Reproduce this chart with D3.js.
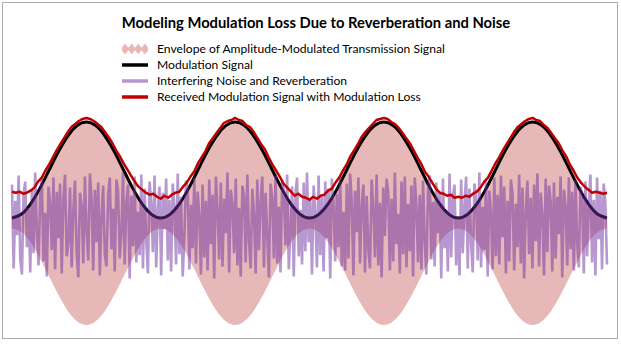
<!DOCTYPE html>
<html>
<head>
<meta charset="utf-8">
<script src="https://cdn.jsdelivr.net/npm/d3@7"></script>
<style>
  html, body { margin: 0; padding: 0; background: #fff; }
  svg { display: block; }
  text { font-family: Lato, "Open Sans", sans-serif; fill: #000; }
</style>
</head>
<body>
<svg id="chart" width="621" height="348"></svg>
<script>
// Modulation signal over four modulation periods (normalized amplitude)
const modulation = [
  .050,.086,.189,.343,.525,.707,.861,.964,1.000,.964,.861,.707,.525,.343,.189,.086,
  .050,.086,.189,.343,.525,.707,.861,.964,1.000,.964,.861,.707,.525,.343,.189,.086,
  .050,.086,.189,.343,.525,.707,.861,.964,1.000,.964,.861,.707,.525,.343,.189,.086,
  .050,.086,.189,.343,.525,.707,.861,.964,1.000,.964,.861,.707,.525,.343,.189,.086,
  .050
];

// Envelope of the amplitude-modulated transmission (± half-width)
const envelope = [
  .055,.090,.193,.348,.530,.713,.868,.972,1.010,.972,.868,.713,.530,.348,.193,.090,
  .055,.090,.193,.348,.530,.713,.868,.972,1.010,.972,.868,.713,.530,.348,.193,.090,
  .055,.090,.193,.348,.530,.713,.868,.972,1.010,.972,.868,.713,.530,.348,.193,.090,
  .055,.090,.193,.348,.530,.713,.868,.972,1.010,.972,.868,.713,.530,.348,.193,.090,
  .055
];

// Interfering noise and reverberation samples
const noise = [
  .38,-.45,.22,-.12,.47,-.36,-.51,.29,.41,-.24,.15,-.49,.33,-.30,.50,-.08,-.42,.26,.44,-.38,
  .10,-.53,.36,.19,-.27,.45,-.46,.31,-.15,.39,-.50,.24,.48,-.33,-.20,.35,-.44,.12,.42,-.28,
  -.54,.30,.17,-.40,.46,-.09,-.37,.49,.25,-.47,.33,-.19,.40,-.52,.07,.37,-.31,-.43,.28,.45,
  -.26,.14,-.48,.43,.32,-.35,-.11,.50,-.41,.21,.38,-.55,.27,-.23,.46,-.39,.11,-.32,.48,-.45,
  .34,-.17,-.50,.41,.20,-.29,.47,-.44,.13,.36,-.52,.30,-.06,.44,-.37,.23,-.48,.39,.16,-.41,
  .49,-.31,.26,-.53,-.14,.42,.35,-.46,.18,-.25,.45,-.40,.31,.08,-.51,.38,-.34,.22,-.47,.43,
  -.21,.28,-.55,.46,.12,-.36,.40,-.43,.24,-.10,.50,-.49,.33,.19,-.30,.44,-.42,.15,-.53,.37,
  .27,-.39,.48,-.18,-.45,.34,.09,-.50,.43,-.27,.21,.46,-.44,.30,-.12,-.54,.39,.25,-.35,.47,
  -.40,.16,-.49,.42,.31,-.22,.48,-.46,-.07,.36,-.53,.29,.45,-.33,.13,-.41,.40,-.28,.50,-.19,
  .23,-.51,.37,.10,-.44,.47,-.32,.26,-.48,.41,-.15,.34,-.55,.44,.18,-.38,.29,-.24,.46,-.43,
  .11,-.47,.39,-.35,.49,.22,-.52,.32,-.09,.45,-.40,.17,.38,-.49,.27,-.26,-.45,.43,.14,-.34,
  .48,-.42,.20,-.54,.35,-.13,.44,.30,-.47,.24,-.38,.50,-.21,.09,-.50,.41,-.31,.46,-.44,.19,
  -.28,.37,-.53,.45,.15,-.39,.28,-.46,.42,-.17,-.51,.33,.47,-.36,.21,-.43,.40,-.10,.31,-.55,
  .44,-.25,.12,-.48,.49,-.34,.26,.38,-.42,.07,-.52,.43,-.30,.18,.46,-.45,.34,-.20,-.49,.39,
  .24,-.37,.50,-.44,.16,-.27,.41,-.53,.32,.10,-.46,.45,-.33,.28,-.41,.47,-.14,.36,-.50,.22,
  -.38,.43,.29,-.47,.19,-.24,.48,-.40,.35,-.55,.13,.42,-.31,.25,-.45,.38,-.18,.49,-.43,.30,
  .08,-.52,.44,-.29,.37,.21,-.48,.40,-.35,.26,-.11,.46,-.54,.33,.17,-.42,.45,-.26,.31,-.47,
  .43,-.20,-.44,.36,.27,-.50,.41,-.33,.14,.48,-.39,.23,-.52,.45,-.16,.32,-.46,.39,.20,-.41
];

// Received modulation signal (modulation plus noise power)
const received = [
  .31,.30,.31,.29,.30,.32,.35,.41,.45,.52,.58,.65,.72,.78,.84,.90,.95,.98,1.01,1.03,
  1.04,1.03,1.01,.98,.95,.90,.85,.79,.72,.66,.59,.53,.47,.41,.36,.33,.30,.28,.29,.26,
  .24,.27,.25,.28,.30,.31,.36,.40,.46,.51,.59,.65,.71,.79,.84,.89,.94,.99,1.01,1.02,
  1.04,1.02,1.01,.97,.95,.90,.84,.78,.73,.65,.58,.52,.46,.39,.35,.31,.27,.29,.26,.25,
  .23,.26,.24,.27,.28,.32,.34,.40,.45,.52,.58,.66,.72,.78,.85,.90,.94,.98,1.02,1.03,
  1.04,1.03,1.00,.98,.94,.89,.84,.79,.72,.65,.59,.51,.46,.40,.34,.30,.29,.27,.28,.25,
  .26,.25,.27,.26,.29,.31,.35,.41,.45,.52,.59,.65,.72,.78,.84,.90,.95,.98,1.01,1.03,
  1.04,1.02,1.01,.97,.94,.89,.84,.79,.72,.66,.58,.52,.45,.40,.36,.33,.30,.31,.30,.29,
  .30
];

const periods = 4;
const title = "Modeling Modulation Loss Due to Reverberation and Noise";
const legendLabels = [
  "Envelope of Amplitude-Modulated Transmission Signal",
  "Modulation Signal",
  "Interfering Noise and Reverberation",
  "Received Modulation Signal with Modulation Loss"
];

const colors = {
  envelope: "#C0504D",
  modulation: "#000000",
  noise: "#7030A0",
  received: "#C00000"
};

const svg = d3.select("#chart");

// frame
svg.append("rect")
  .attr("x", 2.5).attr("y", 2.5)
  .attr("width", 615).attr("height", 336)
  .attr("fill", "#fff").attr("stroke", "#ababab").attr("stroke-width", 1);

const x = d3.scaleLinear().domain([0, periods]).range([12, 607]);
const y = d3.scaleLinear().domain([-1, 1]).range([324, 122]);

const xOf = arr => (d, i) => x(i / (arr.length - 1) * periods);

// envelope
svg.append("path")
  .datum(envelope)
  .attr("d", d3.area()
    .x(xOf(envelope))
    .y0(d => y(-d))
    .y1(d => y(d))
    .curve(d3.curveNatural))
  .attr("fill", colors.envelope)
  .attr("fill-opacity", 0.4);

// modulation signal
svg.append("path")
  .datum(modulation)
  .attr("d", d3.line().x(xOf(modulation)).y(d => y(d)).curve(d3.curveNatural))
  .attr("fill", "none")
  .attr("stroke", colors.modulation)
  .attr("stroke-width", 3);

// noise and reverberation
svg.append("path")
  .datum(noise)
  .attr("d", d3.line().x(xOf(noise)).y(d => y(d)))
  .attr("fill", "none")
  .attr("stroke", colors.noise)
  .attr("stroke-opacity", 0.5)
  .attr("stroke-width", 2.6)
  .attr("stroke-linejoin", "miter")
  .attr("stroke-miterlimit", 2);

// received signal
svg.append("path")
  .datum(received)
  .attr("d", d3.line().x(xOf(received)).y(d => y(d)))
  .attr("fill", "none")
  .attr("stroke", colors.received)
  .attr("stroke-width", 2.5)
  .attr("stroke-linejoin", "round");

// title, sized to its span
const titleEl = svg.append("text")
  .attr("x", 316).attr("y", 28)
  .attr("text-anchor", "middle")
  .attr("font-weight", "bold")
  .attr("font-size", 16)
  .text(title);
{
  const w = titleEl.node().getComputedTextLength();
  titleEl.attr("font-size", 16 * 389 / w);
}

// legend
const legendY = [49, 65, 81, 97];
const lx0 = 122, lx1 = 148, tx = 157;
const lg = svg.append("g");

// envelope swatch: four small lobes
const lobes = [0, 1, 0, 1, 0, 1, 0, 1, 0];
const lobeX = d3.scaleLinear().domain([0, lobes.length - 1]).range([lx0, lx1]);
lg.append("path")
  .datum(lobes)
  .attr("d", d3.area()
    .x((d, i) => lobeX(i))
    .y0(d => legendY[0] + 1.5 + d * 3.5)
    .y1(d => legendY[0] - 1.5 - d * 3.5)
    .curve(d3.curveMonotoneX))
  .attr("fill", colors.envelope)
  .attr("fill-opacity", 0.4);

[["modulation", 1, 1], ["noise", 2, 0.5], ["received", 3, 1]].forEach(([k, i, op]) => {
  lg.append("line")
    .attr("x1", lx0).attr("x2", lx1)
    .attr("y1", legendY[i]).attr("y2", legendY[i])
    .attr("stroke", colors[k])
    .attr("stroke-opacity", op)
    .attr("stroke-width", 3.5);
});

const labels = lg.selectAll("text.lbl")
  .data(legendLabels)
  .join("text")
  .attr("class", "lbl")
  .attr("x", tx)
  .attr("y", (d, i) => legendY[i])
  .attr("dy", "0.35em")
  .attr("font-size", 12)
  .text(d => d);
{
  const w = labels.nodes()[0].getComputedTextLength();
  labels.attr("font-size", 12 * 288 / w);
}
</script>
</body>
</html>
